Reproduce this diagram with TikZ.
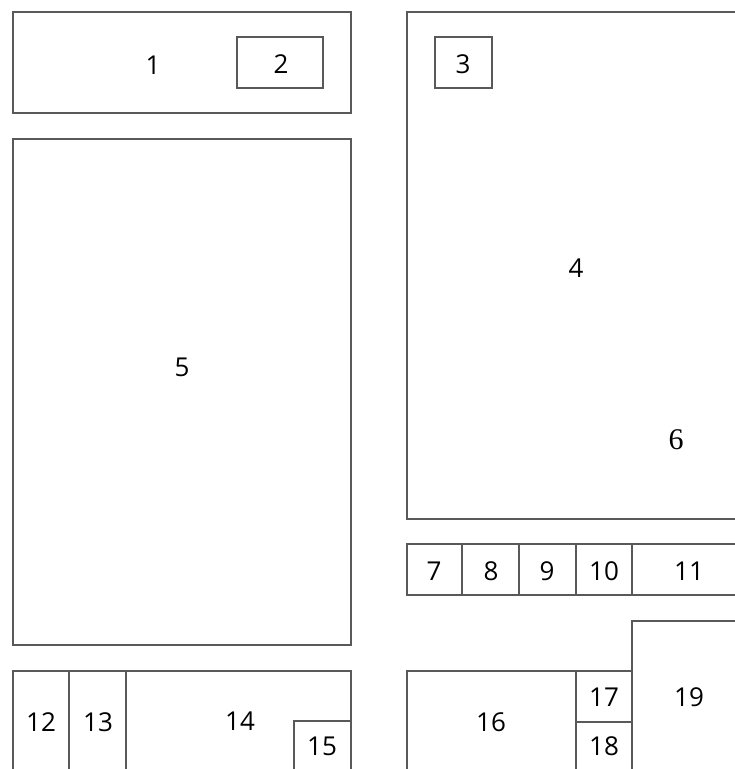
\documentclass[tikz,border=0pt]{standalone}
\usepackage{fontspec}
\setmainfont{Open Sans}
\newfontfamily\serifnum{Liberation Serif}
\tikzset{area/.style={
    rectangle,
    draw=black!65,
    line width=1.5pt,
    anchor=north west,
    inner sep=0pt,
    outer sep=0pt
  },
  num/.style={font=\fontsize{26}{30}\selectfont, text=black, inner sep=0pt},
  snum/.style={num,font=\serifnum\fontsize{30}{34}\selectfont},
}
\begin{document}
\begin{tikzpicture}[x=1pt,y=-1pt]
  \clip (0,0) rectangle (735,769);
  \fill[white] (0,0) rectangle (735,769);
  % left column
  \node [area,minimum width=338pt,minimum height=101pt] (a1) at (13,12) {};
  \node [area,minimum width=86pt,minimum height=51pt] (a2) at (237,37) {};
  \node [area,minimum width=338pt,minimum height=506pt] (a5) at (13,139) {};
  \node [area,minimum width=56pt,minimum height=120pt] (a12) at (13,671) {};
  \node [area,minimum width=57pt,minimum height=120pt] (a13) at (69,671) {};
  \node [area,minimum width=225pt,minimum height=120pt] (a14) at (126,671) {};
  \node [area,minimum width=57pt,minimum height=70pt] (a15) at (294,721) {};
  % right column
  \node [area,minimum width=360pt,minimum height=507pt] (a4) at (407,12) {};
  \node [area,minimum width=57pt,minimum height=51pt] (a3) at (435,37) {};
  \node [area,minimum width=55pt,minimum height=51pt] (a7) at (407,544) {};
  \node [area,minimum width=57pt,minimum height=51pt] (a8) at (462,544) {};
  \node [area,minimum width=57pt,minimum height=51pt] (a9) at (519,544) {};
  \node [area,minimum width=56pt,minimum height=51pt] (a10) at (576,544) {};
  \node [area,minimum width=140pt,minimum height=51pt] (a11) at (632,544) {};
  \node [area,minimum width=169pt,minimum height=120pt] (a16) at (407,671) {};
  \node [area,minimum width=56pt,minimum height=51pt] (a17) at (576,671) {};
  \node [area,minimum width=56pt,minimum height=70pt] (a18) at (576,722) {};
  \node [area,minimum width=140pt,minimum height=170pt] (a19) at (632,621) {};
  % numbers
  \node [num] (n1) at (153,65) {1};
  \node [num] (n2) at (281,64) {2};
  \node [num] (n3) at (463,64) {3};
  \node [num] (n4) at (576,268) {4};
  \node [num] (n5) at (182,367) {5};
  \node [snum] (n6) at (676,440) {6};
  \node [num] (n7) at (434,571) {7};
  \node [num] (n8) at (491,571) {8};
  \node [num] (n9) at (547,571) {9};
  \node [num] (n10) at (604,571) {10};
  \node [num] (n11) at (689,571) {11};
  \node [num] (n12) at (41,722) {12};
  \node [num] (n13) at (98,722) {13};
  \node [num] (n14) at (240,721) {14};
  \node [num] (n15) at (322,746) {15};
  \node [num] (n16) at (491,722) {16};
  \node [num] (n17) at (604,697) {17};
  \node [num] (n18) at (604,746) {18};
  \node [num] (n19) at (689,697) {19};
\end{tikzpicture}
\end{document}
